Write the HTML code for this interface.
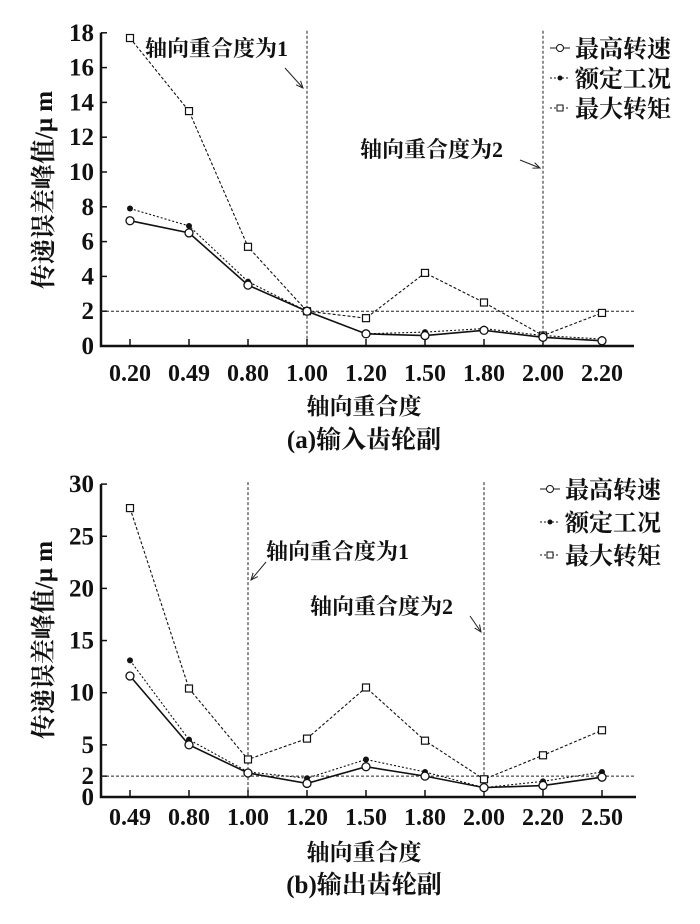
<!DOCTYPE html>
<html><head><meta charset="utf-8"><style>
body{margin:0;background:#fff}
svg{display:block}
text{font-family:"Liberation Serif","Noto Serif CJK SC",serif;fill:#111}
.cj{font-family:"Liberation Serif","Noto Serif CJK SC","Noto Sans CJK SC",serif;font-weight:bold}
.tk{font-weight:bold}
</style></head><body>
<svg id="c" width="700" height="924" viewBox="0 0 700 924" xmlns="http://www.w3.org/2000/svg">
<defs><marker id="ar" markerWidth="8" markerHeight="8" refX="7" refY="4" orient="auto"><path d="M0,1 L7,4 L0,7" fill="none" stroke="#222" stroke-width="1"/></marker></defs>
</svg>
<script>
// Chart (a)
const catsA=["0.20","0.49","0.80","1.00","1.20","1.50","1.80","2.00","2.20"];
const speedA=[7.2,6.5,3.5,2.0,0.7,0.6,0.9,0.5,0.3];
const ratedA=[7.9,6.9,3.7,2.0,0.7,0.8,1.0,0.6,0.4];
const torqueA=[17.7,13.5,5.7,2.0,1.6,4.2,2.5,0.6,1.9];
const ticksA=[0,2,4,6,8,10,12,14,16,18];
// Chart (b)
const catsB=["0.49","0.80","1.00","1.20","1.50","1.80","2.00","2.20","2.50"];
const speedB=[11.6,5.0,2.3,1.3,2.9,2.0,0.9,1.1,1.9];
const ratedB=[13.1,5.5,2.4,1.8,3.6,2.4,0.9,1.5,2.4];
const torqueB=[27.7,10.4,3.6,5.6,10.5,5.4,1.7,4.0,6.4];
const ticksB=[0,2,5,10,15,20,25,30];

const svg=document.getElementById('c');
const NS='http://www.w3.org/2000/svg';
function el(tag,attrs,parent){const e=document.createElementNS(NS,tag);for(const k in attrs)e.setAttribute(k,attrs[k]);(parent||svg).appendChild(e);return e;}
function txt(s,x,y,cls,size,anchor,parent){const t=el('text',{x:x,y:y,'class':cls,'font-size':size,'text-anchor':anchor||'middle'},parent);t.textContent=s;return t;}

function chart(cfg){
  const g=el('g',{});
  
  
  const x=i=>cfg.x0+i*cfg.dx;
  const y=v=>cfg.y0-v*cfg.ky;
  const ax=el('path',{d:`M${cfg.ax} ${y(cfg.ymax)} V${cfg.y0} H${cfg.xend}`,stroke:'#111','stroke-width':2.5,fill:'none'},g);
  
  
  cfg.ticks.forEach(t=>{
    el('line',{x1:cfg.ax,x2:cfg.ax+6,y1:y(t),y2:y(t),stroke:'#111','stroke-width':1.5},g);
    const lb=txt(String(t),cfg.ax-7,y(t)+8,'tk',25,'end',g);
    
    
  });
  cfg.cats.forEach((c,i)=>{
    el('line',{x1:x(i),x2:x(i),y1:cfg.y0,y2:cfg.y0-7,stroke:'#111','stroke-width':1.5},g);
    const lb=txt(c,x(i),cfg.y0+cfg.xoff,'tk',24,'middle',g);
    
    
  });
  const hl=el('line',{x1:cfg.ax,x2:cfg.xend,y1:y(2),y2:y(2),stroke:'#222','stroke-width':1,'stroke-dasharray':'3,2'},g);
  
  
  cfg.vl.forEach(i=>{
    const v=el('line',{x1:x(i),x2:x(i),y1:y(cfg.ymax)-2,y2:cfg.y0,stroke:'#222','stroke-width':1,'stroke-dasharray':'3,2'},g);
    
    
  });
  const series=[
    {d:cfg.torque,m:'sq',dash:'3,2',w:1.1,name:'series-max-torque'},
    {d:cfg.rated,m:'star',dash:'2,2',w:1.1,name:'series-rated'},
    {d:cfg.speed,m:'circ',dash:'',w:1.6,name:'series-max-speed'}];
  series.forEach(s=>{
    const pts=s.d.map((v,i)=>x(i)+','+y(v)).join(' ');
    const pl=el('polyline',{points:pts,fill:'none',stroke:'#111','stroke-width':s.w,'stroke-dasharray':s.dash},g);
    
    
    s.d.forEach((v,i)=>{
      let m;
      if(s.m==='sq') m=el('rect',{x:x(i)-3.5,y:y(v)-3.5,width:7,height:7,fill:'#fff',stroke:'#111','stroke-width':1.2},g);
      else if(s.m==='circ') m=el('circle',{cx:x(i),cy:y(v),r:4,fill:'#fff',stroke:'#111','stroke-width':1.3},g);
      else m=el('circle',{cx:x(i),cy:y(v),r:3,fill:'#111'},g);
      
      
    });
  });
  const lg=el('g',{},g);
  
  
  [['最高转速','circ'],['额定工况','star'],['最大转矩','sq']].forEach((e,k)=>{
    const ly=cfg.lgy+k*cfg.lgdy, lx=cfg.lgx;
    const eg=el('g',{},lg);
    
    
    el('line',{x1:lx,x2:lx+20,y1:ly,y2:ly,stroke:'#111','stroke-width':1,'stroke-dasharray':e[1]==='circ'?'':'2,2'},eg);
    if(e[1]==='circ') el('circle',{cx:lx+10,cy:ly,r:3.5,fill:'#fff',stroke:'#111'},eg);
    else if(e[1]==='star') el('circle',{cx:lx+10,cy:ly,r:2.5,fill:'#111'},eg);
    else el('rect',{x:lx+7,y:ly-3,width:6,height:6,fill:'#fff',stroke:'#111'},eg);
    txt(e[0],lx+25,ly+9,'cj',24,'start',eg);
  });
  cfg.ann.forEach(a=>{
    const t=txt(a.t,a.x,a.y,'cj',22,'start',g);
    
    
    el('line',{x1:a.ax1,y1:a.ay1,x2:a.ax2,y2:a.ay2,stroke:'#222','stroke-width':1,'marker-end':'url(#ar)'},g);
  });
  const yt=txt('传递误差峰值/μ m',0,0,'cj',25,'middle',g);
  yt.setAttribute('transform',`translate(${cfg.ytx},${cfg.yty}) rotate(-90)`);
  
  
  const xt=txt('轴向重合度',364,cfg.xty,'cj',23,'middle',g);
  
  
  const cp=txt(cfg.cap,364,cfg.capy,'cj',25,'middle',g);
  
  
}

chart({name:'chart-input-gear',cats:catsA,speed:speedA,rated:ratedA,torque:torqueA,ticks:ticksA,ymax:18,
  ax:101,x0:130,dx:59,y0:346,ky:17.4,xend:634,vl:[3,7],xoff:35,
  lgx:550,lgy:48,lgdy:30,
  ann:[{t:'轴向重合度为1',x:145,y:56,ax1:285,ay1:68,ax2:303,ay2:88},
       {t:'轴向重合度为2',x:360,y:157,ax1:520,ay1:160,ax2:540,ay2:168}],
  ytx:52,yty:190,xty:414,cap:'(a)输入齿轮副',capy:448});
chart({name:'chart-output-gear',cats:catsB,speed:speedB,rated:ratedB,torque:torqueB,ticks:ticksB,ymax:30,
  ax:101,x0:130,dx:59,y0:797,ky:10.43,xend:636,vl:[2,6],xoff:28,
  lgx:540,lgy:489,lgdy:33,
  ann:[{t:'轴向重合度为1',x:266,y:559,ax1:266,ay1:562,ax2:251,ay2:580},
       {t:'轴向重合度为2',x:310,y:614,ax1:470,ay1:616,ax2:481,ay2:632}],
  ytx:52,yty:640,xty:860,cap:'(b)输出齿轮副',capy:893});
</script>
</body></html>
